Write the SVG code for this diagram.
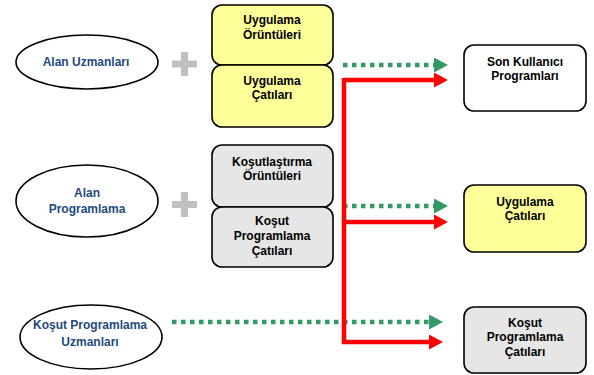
<svg xmlns="http://www.w3.org/2000/svg" width="594" height="375" viewBox="0 0 594 375">
<style>
  .ell{fill:#fff;stroke:#000;stroke-width:1.6}
  .ylw{fill:#FFFF99;stroke:#000;stroke-width:1.6}
  .gry{fill:#E6E6E6;stroke:#000;stroke-width:1.6}
  .wht{fill:#fff;stroke:#000;stroke-width:1.6}
  .et{font-family:"Liberation Sans",Arial,sans-serif;font-size:12px;font-weight:bold;fill:#1F497D;text-anchor:middle}
  .bt{font-family:"Liberation Sans",Arial,sans-serif;font-size:12px;font-weight:bold;fill:#000;text-anchor:middle}
  .plus{stroke:#C0C0C0;stroke-width:7;fill:none}
  .grn{stroke:#339966;stroke-width:4.5;stroke-dasharray:4.5 4.5;fill:none}
  .red{stroke:#FF0000;stroke-width:4.5;fill:none}
</style>
<defs>
  <marker id="ag" markerUnits="userSpaceOnUse" viewBox="0 0 14 15" refX="0" refY="7.5" markerWidth="14" markerHeight="15" orient="auto">
    <path d="M0,0 L14,7.5 L0,15 Z" fill="#339966"/>
  </marker>
  <marker id="ar" markerUnits="userSpaceOnUse" viewBox="0 0 14 15" refX="0" refY="7.5" markerWidth="14" markerHeight="15" orient="auto">
    <path d="M0,0 L14,7.5 L0,15 Z" fill="#FF0000"/>
  </marker>
</defs>

<g id="alan-uzmanlari">
  <ellipse class="ell" cx="87" cy="62" rx="71" ry="27"/>
  <text class="et" x="86" y="66">Alan Uzmanları</text>
</g>
<g id="plus1">
  <path class="plus" d="M172,64 H197 M184.5,52 V76"/>
</g>
<g id="uygulama-oruntuleri">
  <rect class="ylw" x="212" y="5" width="121" height="60" rx="10"/>
  <text class="bt" x="272" y="24">Uygulama</text>
  <text class="bt" x="272" y="38.5">Örüntüleri</text>
</g>
<g id="uygulama-catilari-1">
  <rect class="ylw" x="212" y="65" width="121" height="62" rx="10"/>
  <text class="bt" x="272" y="85">Uygulama</text>
  <text class="bt" x="272" y="99">Çatıları</text>
</g>

<g id="alan-programlama">
  <ellipse class="ell" cx="87" cy="201" rx="71" ry="36"/>
  <text class="et" x="87" y="197">Alan</text>
  <text class="et" x="87" y="213">Programlama</text>
</g>
<g id="plus2">
  <path class="plus" d="M172,204.5 H197 M184.5,192 V217"/>
</g>
<g id="kosutlastirma-oruntuleri">
  <rect class="gry" x="212" y="145" width="121" height="62" rx="10"/>
  <text class="bt" x="272" y="166">Koşutlaştırma</text>
  <text class="bt" x="272" y="180">Örüntüleri</text>
</g>
<g id="kosut-programlama-catilari-1">
  <rect class="gry" x="212" y="207" width="121" height="60" rx="10"/>
  <text class="bt" x="272" y="225">Koşut</text>
  <text class="bt" x="272" y="240">Programlama</text>
  <text class="bt" x="272" y="255">Çatıları</text>
</g>

<g id="kosut-programlama-uzmanlari">
  <ellipse class="ell" cx="91" cy="337" rx="71" ry="32"/>
  <text class="et" x="90" y="329">Koşut Programlama</text>
  <text class="et" x="90" y="346">Uzmanları</text>
</g>

<g id="son-kullanici-programlari">
  <rect class="wht" x="464" y="45" width="122" height="66" rx="10"/>
  <text class="bt" x="525" y="66">Son Kullanıcı</text>
  <text class="bt" x="525" y="80">Programları</text>
</g>
<g id="uygulama-catilari-2">
  <rect class="ylw" x="464" y="185" width="122" height="67" rx="10"/>
  <text class="bt" x="525" y="206">Uygulama</text>
  <text class="bt" x="525" y="220">Çatıları</text>
</g>
<g id="kosut-programlama-catilari-2">
  <rect class="gry" x="464" y="307" width="122" height="66" rx="10"/>
  <text class="bt" x="525" y="327">Koşut</text>
  <text class="bt" x="525" y="341">Programlama</text>
  <text class="bt" x="525" y="356">Çatıları</text>
</g>

<g id="connectors">
  <path class="grn" d="M343,65 H434" marker-end="url(#ag)"/>
  <path class="grn" d="M343,206 H434" marker-end="url(#ag)"/>
  <path class="grn" d="M172,322 H429" marker-end="url(#ag)"/>
  <path class="red" d="M344,80 H434" marker-end="url(#ar)"/>
  <path class="red" d="M344,222 H434" marker-end="url(#ar)"/>
  <path class="red" d="M344,78 V342 H429" stroke-linejoin="miter" marker-end="url(#ar)"/>
</g>
</svg>
